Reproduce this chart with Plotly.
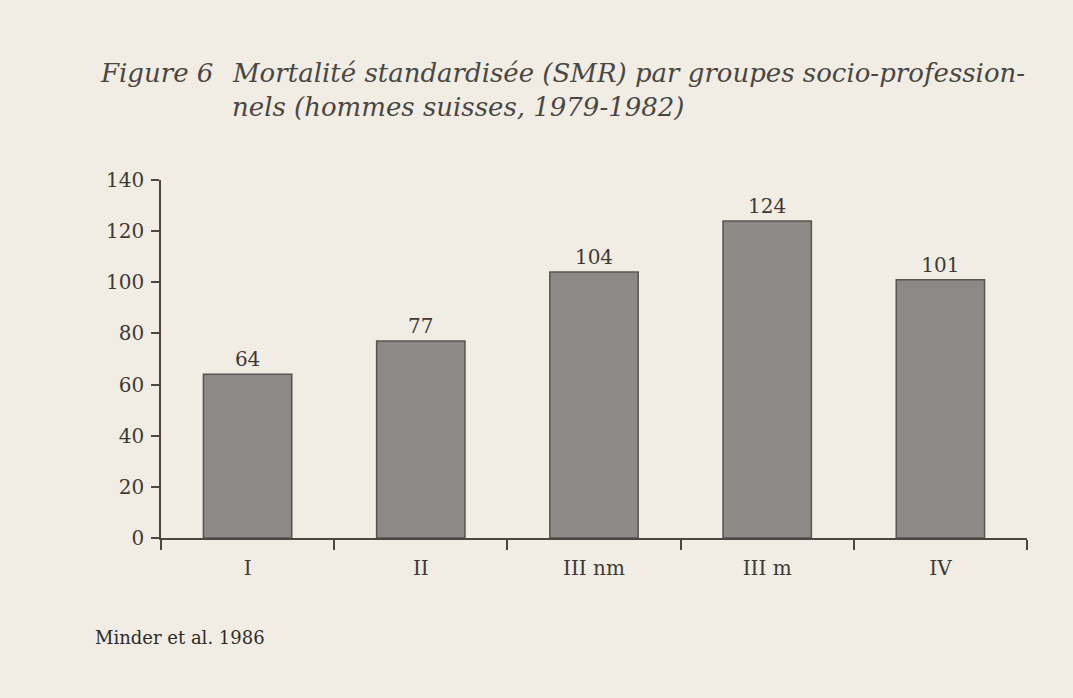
import plotly.graph_objects as go

# SMR by socio-professional group, Swiss men 1979-1982
groups = ['I', 'II', 'III nm', 'III m', 'IV']
smr = [64, 77, 104, 124, 101]
y_ticks = [0, 20, 40, 60, 80, 100, 120, 140]

paper = '#F1EDE4'
ink = '#3D3A36'
serif = 'DejaVu Serif, serif'

W, H = 1073, 698
left, right, top, bottom = 161, 46, 180, 160
plot_w = W - left - right
plot_h = H - top - bottom


def px_x(px):
    return (px - left) / plot_w


def px_y(py):
    return 1 - (py - top) / plot_h


fig = go.Figure()

fig.add_trace(go.Bar(
    x=groups,
    y=smr,
    width=0.51,
    marker=dict(color='#8C8986', line=dict(color='#57534E', width=1.5)),
    text=[str(v) for v in smr],
    textposition='outside',
    textfont=dict(family=serif, size=20, color=ink),
    cliponaxis=False,
    hoverinfo='x+y',
    showlegend=False
))

title_font = dict(family=serif, size=26, color='#4A4743', style='italic')

fig.update_layout(
    width=W, height=H,
    margin=dict(l=left, r=right, t=top, b=bottom),
    paper_bgcolor=paper,
    plot_bgcolor=paper,
    font=dict(family=serif, size=20, color=ink),
    xaxis=dict(
        showline=True, linecolor='#4A4743', linewidth=1.5,
        ticks='outside', tickson='boundaries', ticklen=10, tickwidth=1.5,
        tickcolor='#4A4743', showgrid=False, zeroline=False,
        ticklabelstandoff=11,
        tickfont=dict(family=serif, size=20, color=ink)
    ),
    yaxis=dict(
        range=[0, 140], tickvals=y_ticks,
        showline=True, linecolor='#4A4743', linewidth=1.5,
        ticks='outside', ticklen=8, tickwidth=1.5, tickcolor='#4A4743',
        showgrid=False, zeroline=False, ticklabelstandoff=3,
        tickfont=dict(family=serif, size=20, color=ink)
    ),
    annotations=[
        dict(text='Figure 6', xref='paper', yref='paper',
             x=px_x(98), y=px_y(73), xanchor='left', yanchor='middle',
             showarrow=False, font=title_font),
        dict(text='Mortalité standardisée (SMR) par groupes socio-profession-',
             xref='paper', yref='paper', x=px_x(230), y=px_y(73),
             xanchor='left', yanchor='middle', showarrow=False, font=title_font),
        dict(text='nels (hommes suisses, 1979-1982)',
             xref='paper', yref='paper', x=px_x(230), y=px_y(107),
             xanchor='left', yanchor='middle', showarrow=False, font=title_font),
        dict(text='Minder et al. 1986', xref='paper', yref='paper',
             x=px_x(93), y=px_y(637), xanchor='left', yanchor='middle',
             showarrow=False, font=dict(family=serif, size=18, color='#2E2B28')),
    ]
)

fig.write_html('out.html', config={'displayModeBar': False},
               post_script="document.body.style.margin='0';"
               "document.body.style.background='%s';" % paper)
